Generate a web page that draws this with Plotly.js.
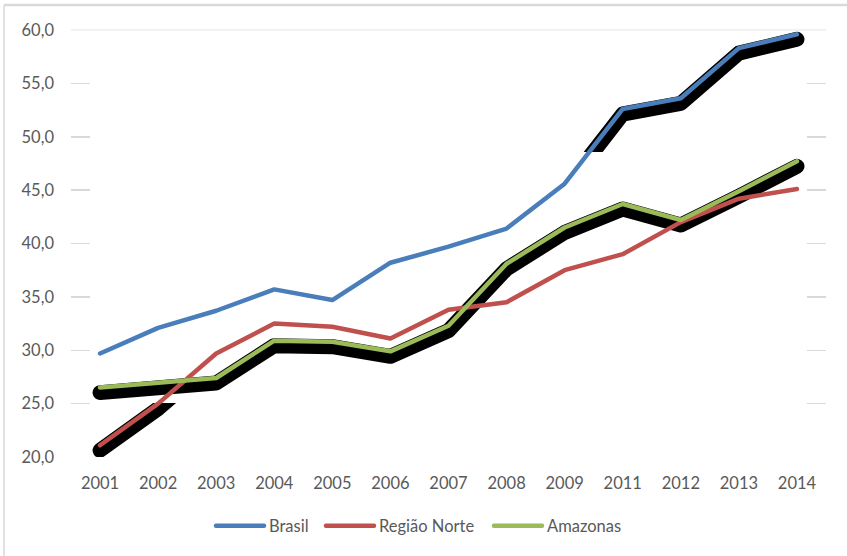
<!DOCTYPE html>
<html>
<head>
<meta charset="utf-8">
<script src="https://cdn.plot.ly/plotly-3.0.1.min.js"></script>
<style>
  html, body { margin: 0; padding: 0; background: #ffffff; }
  #chart { width: 847px; height: 556px; }
  .js-line { stroke-linejoin: round; stroke-linecap: round; }
</style>
</head>
<body>
<div id="chart"></div>
<script>
// ---- data ----
const years = ['2001','2002','2003','2004','2005','2006','2007','2008','2009','2011','2012','2013','2014'];
const brasil = [29.7, 32.1, 33.7, 35.7, 34.7, 38.2, 39.7, 41.4, 45.6, 52.6, 53.6, 58.3, 59.6];
const regiaoNorte = [21.1, 25.0, 29.7, 32.5, 32.2, 31.1, 33.8, 34.5, 37.5, 39.0, 42.0, 44.2, 45.1];
const amazonas = [26.5, 27.0, 27.4, 30.9, 30.8, 29.9, 32.3, 38.1, 41.5, 43.7, 42.2, 44.9, 47.7];
const seriesNames = ['Brasil', 'Região Norte', 'Amazonas'];
const yTickVals = [20, 25, 30, 35, 40, 45, 50, 55, 60];
const yTickText = ['20,0', '25,0', '30,0', '35,0', '40,0', '45,0', '50,0', '55,0', '60,0'];

// ---- style / geometry ----
const W = 847, H = 556;
const M = { l: 71, r: 21, t: 30, b: 99 };
const plotW = W - M.l - M.r, plotH = H - M.t - M.b;
const yMin = 20, yMax = 60;
const pxPerUnit = plotH / (yMax - yMin);
const shadowDropPx = 5;
const shadowShift = shadowDropPx / pxPerUnit;
// pixel rows where the partial shadows are cut off in the reference
const brasilCutPx = 152, norteCutPx = 403;
const brasilDom = (M.t + plotH - brasilCutPx) / plotH;
const norteDom = (M.t + plotH - norteCutPx) / plotH;

const colors = { brasil: '#4a7ebb', norte: '#c0504d', amazonas: '#9bbb59' };
const textColor = '#595959';
const fontFam = 'Lato, "Open Sans", sans-serif';
const fontSize = 16.5;
const lineW = 4.5, shadowW = 15;
// legend entry left edges (px) and row centre
const legendLeftPx = [211, 321, 489];
const legendRowPx = 526;

const shadowLine = { color: '#000000', width: shadowW };
const traces = [
  // Amazonas shadow (full length)
  { x: years, y: amazonas, xaxis: 'x', yaxis: 'y', mode: 'lines', line: shadowLine, showlegend: false, hoverinfo: 'skip' },
  // Brasil shadow (upper part only)
  { x: years, y: brasil, xaxis: 'x', yaxis: 'y2', mode: 'lines', line: shadowLine, showlegend: false, hoverinfo: 'skip' },
  // Região Norte shadow (lower part only)
  { x: years, y: regiaoNorte, xaxis: 'x', yaxis: 'y3', mode: 'lines', line: shadowLine, showlegend: false, hoverinfo: 'skip' },
  // main series
  { x: years, y: brasil, name: seriesNames[0], legend: 'legend', xaxis: 'x', yaxis: 'y4', mode: 'lines', line: { color: colors.brasil, width: lineW } },
  { x: years, y: regiaoNorte, name: seriesNames[1], legend: 'legend2', xaxis: 'x', yaxis: 'y4', mode: 'lines', line: { color: colors.norte, width: lineW } },
  { x: years, y: amazonas, name: seriesNames[2], legend: 'legend3', xaxis: 'x', yaxis: 'y4', mode: 'lines', line: { color: colors.amazonas, width: lineW } }
];

const hiddenY = (domain, range) => ({
  domain: domain, range: range, anchor: 'x', visible: false, fixedrange: true
});
const legendAt = (leftPx) => ({
  orientation: 'h',
  x: (leftPx - M.l) / plotW, xanchor: 'left',
  y: -(legendRowPx - (M.t + plotH)) / plotH, yanchor: 'middle',
  font: { family: fontFam, size: fontSize, color: textColor },
  itemwidth: 48,
  bgcolor: 'rgba(0,0,0,0)'
});

const layout = {
  width: W, height: H,
  margin: M,
  paper_bgcolor: '#ffffff',
  plot_bgcolor: 'rgba(0,0,0,0)',
  font: { family: fontFam, size: fontSize, color: textColor },
  showlegend: true,
  legend: legendAt(legendLeftPx[0]),
  legend2: legendAt(legendLeftPx[1]),
  legend3: legendAt(legendLeftPx[2]),
  xaxis: {
    type: 'category',
    categoryorder: 'array', categoryarray: years,
    range: [-0.5, years.length - 0.5],
    anchor: 'y4',
    showgrid: false, zeroline: false, showline: false,
    ticks: '', ticklabelstandoff: 14,
    tickfont: { family: fontFam, size: fontSize, color: textColor },
    fixedrange: true
  },
  yaxis: hiddenY([0, 1], [yMin + shadowShift, yMax + shadowShift]),
  yaxis2: hiddenY([brasilDom, 1], [yMin + brasilDom * (yMax - yMin) + shadowShift, yMax + shadowShift]),
  yaxis3: hiddenY([0, norteDom], [yMin + shadowShift, yMin + norteDom * (yMax - yMin) + shadowShift]),
  yaxis4: {
    domain: [0, 1],
    anchor: 'x',
    range: [yMin, yMax],
    tickvals: yTickVals, ticktext: yTickText,
    showgrid: false, zeroline: false, showline: false,
    ticks: 'inside', ticklen: 19, tickwidth: 1.5, tickcolor: '#d9d9d9',
    mirror: 'ticks',
    ticklabelstandoff: 16,
    tickfont: { family: fontFam, size: fontSize, color: textColor },
    fixedrange: true
  },
  shapes: [
    // top gridline (60,0)
    { type: 'line', xref: 'paper', yref: 'paper', x0: 0, x1: 1, y0: 1, y1: 1,
      line: { color: '#e6e6e6', width: 1.2 }, layer: 'below' },
    // chart frame: top and left edges
    { type: 'line', xref: 'paper', yref: 'paper',
      x0: (4 - M.l) / plotW, x1: (W - M.l) / plotW,
      y0: (M.t + plotH - 5) / plotH, y1: (M.t + plotH - 5) / plotH,
      line: { color: '#d9d9d9', width: 2.5 } },
    { type: 'line', xref: 'paper', yref: 'paper',
      x0: (4 - M.l) / plotW, x1: (4 - M.l) / plotW,
      y0: (M.t + plotH - 5) / plotH, y1: -(M.b) / plotH,
      line: { color: '#d9d9d9', width: 1.5 } }
  ]
};

Plotly.newPlot('chart', traces, layout, { displayModeBar: false, staticPlot: true });
</script>
</body>
</html>
